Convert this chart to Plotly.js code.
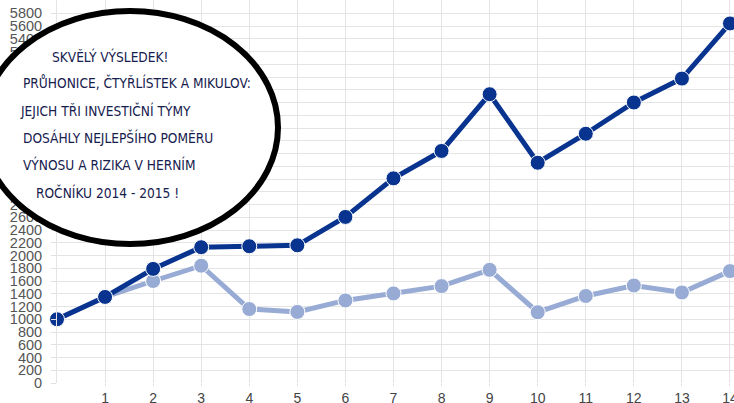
<!DOCTYPE html>
<html>
<head>
<meta charset="utf-8">
<script src="https://cdn.plot.ly/plotly-3.0.1.min.js"></script>
<style>
html,body{margin:0;padding:0;background:#fff;}
#chart{width:734px;height:403px;}
</style>
</head>
<body>
<div id="chart"></div>
<script>
// Data
const rounds = [0,1,2,3,4,5,6,7,8,9,10,11,12,13,14];
const topTeams = [1000,1350,1790,2130,2145,2160,2605,3210,3640,4530,3455,3910,4400,4775,5640];
const otherTeams = [1000,1350,1600,1840,1160,1115,1295,1405,1520,1775,1110,1365,1530,1420,1755];
const yTicks = [0,200,400,600,800,1000,1200,1400,1600,1800,2000,2200,2400,2600,2800,3000,3200,3400,3600,3800,4000,4200,4400,4600,4800,5000,5200,5400,5600,5800];
const xTicks = [1,2,3,4,5,6,7,8,9,10,11,12,13,14];
const noteLines = [
  "SKVĚLÝ VÝSLEDEK!",
  "PRŮHONICE, ČTYŘLÍSTEK A MIKULOV:",
  "JEJICH TŘI INVESTIČNÍ TÝMY",
  "DOSÁHLY NEJLEPŠÍHO POMĚRU",
  "VÝNOSU A RIZIKA V HERNÍM",
  "ROČNÍKU 2014 - 2015 !"
];

// layout geometry (pixels)
const L = 57, W = 677, T = 0, H = 383;
const px2x = p => (p - L) / W;
const py2y = p => (H - p) / H;
const notePos = [[50,57],[21,83],[18,110],[21,137],[21,164],[34,192]];

const traces = [
  {x: rounds, y: otherTeams, type: 'scatter', mode: 'lines+markers',
   line: {color: '#97abd4', width: 5},
   marker: {color: '#97abd4', size: 15, line: {color: '#ffffff', width: 1}},
   cliponaxis: false},
  {x: rounds, y: topTeams, type: 'scatter', mode: 'lines+markers',
   line: {color: '#08338f', width: 5},
   marker: {color: '#08338f', size: 15, line: {color: '#ffffff', width: 1}},
   cliponaxis: false}
];

const annotations = noteLines.map((t, i) => ({
  text: t, xref: 'paper', yref: 'paper',
  x: px2x(notePos[i][0]), y: py2y(notePos[i][1]),
  xanchor: 'left', yanchor: 'middle', showarrow: false,
  font: {family: 'DejaVu Sans Condensed, Liberation Sans Narrow, Noto Sans', size: 13.6, color: '#16204e'}
}));

const layout = {
  width: 734, height: 403,
  margin: {l: L, r: 0, t: T, b: 403 - H, pad: 0},
  paper_bgcolor: '#ffffff', plot_bgcolor: '#ffffff',
  showlegend: false,
  xaxis: {range: [0, W / 48.07], tickvals: xTicks, ticktext: xTicks.map(String),
    showgrid: true, gridcolor: '#e4e4e4', gridwidth: 1, zeroline: false,
    showline: false, ticks: 'outside', ticklen: 2, tickcolor: '#e0e0e0',
    ticklabeloverflow: 'allow',
    tickfont: {family: 'Liberation Sans, Arial', size: 14, color: '#444'}, fixedrange: true},
  yaxis: {range: [0, H / 12.75 * 200], tickvals: yTicks, ticktext: yTicks.map(String),
    showgrid: true, gridcolor: '#e4e4e4', gridwidth: 1, zeroline: false,
    showline: true, linecolor: '#e4e4e4', ticks: 'outside', ticklen: 5, tickcolor: '#e0e0e0',
    ticklabelstandoff: 6,
    tickfont: {family: 'Liberation Sans, Arial', size: 14.5, color: '#555'}, fixedrange: true},
  shapes: [{type: 'circle', xref: 'paper', yref: 'paper', layer: 'above',
    x0: px2x(-18), x1: px2x(278), y0: py2y(244), y1: py2y(11),
    fillcolor: '#ffffff', line: {color: '#000000', width: 6}}],
  annotations: annotations
};

Plotly.newPlot('chart', traces, layout, {staticPlot: true});
</script>
</body>
</html>
